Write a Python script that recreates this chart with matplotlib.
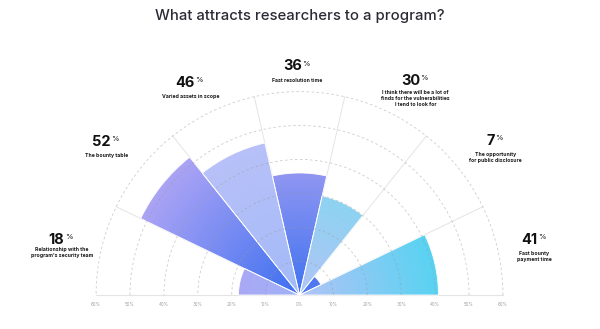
import numpy as np
import matplotlib
matplotlib.use("Agg")
import matplotlib.pyplot as plt
from matplotlib.patches import Wedge, Arc
from matplotlib.colors import to_rgb

# data, left (180 deg) to right (0 deg)
values = [18, 52, 46, 36, 30, 7, 41]
numbers = ["18", "52", "46", "36", "30", "7", "41"]
labels = [
    "Relationship with the\nprogram's security team",
    "The bounty table",
    "Varied assets in scope",
    "Fast resolution time",
    "I think there will be a lot of\nfinds for the vulnerabilities\nI tend to look for",
    "The opportunity\nfor public disclosure",
    "Fast bounty\npayment time",
]
ring_ticks = [10, 20, 30, 40, 50, 60]
axis_ticks = [-60, -50, -40, -30, -20, -10, 0, 10, 20, 30, 40, 50, 60]

# gradient colours per sector (inner -> outer)
inner_cols = ["#9fb3f7", "#3c6ff0", "#a2baf8", "#3f73f0", "#b2c4f6", "#4a78f0", "#b3c3f6"]
outer_cols = ["#aaa8f5", "#aca4f5", "#b8c1f8", "#9096f2", "#8dd3f1", "#5179f0", "#58d3f2"]

# label anchors in figure pixels (x, y from top): digits centre, text top
num_pos = [(56.5, 239.5), (101.5, 141.5), (185, 83), (292.5, 66.5),
           (410.5, 81), (490.5, 141), (529.5, 240)]
txt_pos = [(61.7, 247.5), (106.5, 152.5), (190.5, 93.5), (297.5, 77.5),
           (415.5, 90.5), (495.5, 152), (534, 251)]

W, H = 600, 329
CX, CY = 299.5, 295
S = 3.39  # pixels per percent

plt.rcParams['font.family'] = ['Inter', 'DejaVu Sans']
fig = plt.figure(figsize=(W / 100, H / 100), dpi=100)
ax = fig.add_axes([0, 0, 1, 1])
ax.axis('off')

n = len(values)
step = 180.0 / n
rmax = ring_ticks[-1]

# spokes
for i in range(n + 1):
    a = np.deg2rad(180 - i * step)
    ax.plot([0, rmax * np.cos(a)], [0, rmax * np.sin(a)], color='#e4e4e4', lw=0.7, zorder=1)

# baseline
ax.plot([-rmax, rmax], [0, 0], color='#e4e4e4', lw=0.8, zorder=1)

# gradient fills
gx = np.linspace(-rmax, rmax, 800)
gy = np.linspace(0, rmax, 400)
XX, YY = np.meshgrid(gx, gy)
RR = np.hypot(XX, YY)
for i, v in enumerate(values):
    t1 = 180 - (i + 1) * step
    t2 = 180 - i * step
    c0 = np.array(to_rgb(inner_cols[i]))
    c1 = np.array(to_rgb(outer_cols[i]))
    t = np.clip(RR / v, 0, 1)[..., None]
    img = c0 * (1 - t) + c1 * t
    w = Wedge((0, 0), v, t1, t2, facecolor='none', edgecolor='none')
    ax.add_patch(w)
    im = ax.imshow(img, extent=[-rmax, rmax, 0, rmax], origin='lower',
                   interpolation='bilinear', zorder=2, aspect='auto')
    im.set_clip_path(w)
    ax.add_patch(Wedge((0, 0), v, t1, t2, facecolor='none', edgecolor='white',
                       lw=0.6, zorder=3))

# dashed rings
for r in ring_ticks:
    ax.add_patch(Arc((0, 0), 2 * r, 2 * r, theta1=0, theta2=180, color='#9a9a9a',
                     lw=0.6, ls=(0, (3, 3)), alpha=0.5, zorder=4))

ax.set_xlim(-CX / S, (W - CX) / S)
ax.set_ylim(-(H - CY) / S, CY / S)

# axis tick labels
for tk in axis_ticks:
    ax.text(tk, -10 / S, f"{abs(tk)}%", ha='center', va='center', fontsize=3.2,
            color='#a0a0a0', zorder=5)

# title
fig.text(0.5, 1 - 16 / H, "What attracts researchers to a program?", ha='center',
         va='center', fontsize=10.7, fontweight='medium', color='#2b2b36')

# sector labels
for i in range(n):
    nx, ny = num_pos[i]
    t = fig.text(nx / W, 1 - ny / H, numbers[i], ha='center', va='center',
                 fontsize=10.5, fontweight='bold', color='#111111')
    ax.annotate("%", xy=(1, 0.9), xycoords=t, xytext=(0.3, 0),
                textcoords='offset points', ha='left', va='top',
                fontsize=5.5, color='#111111')
    tx, ty = txt_pos[i]
    fig.text(tx / W, 1 - ty / H, labels[i], ha='center', va='top', fontsize=3.7,
             fontweight='bold', color='#1a1a1a', linespacing=1.2)

fig.savefig('out.png', dpi=100)
